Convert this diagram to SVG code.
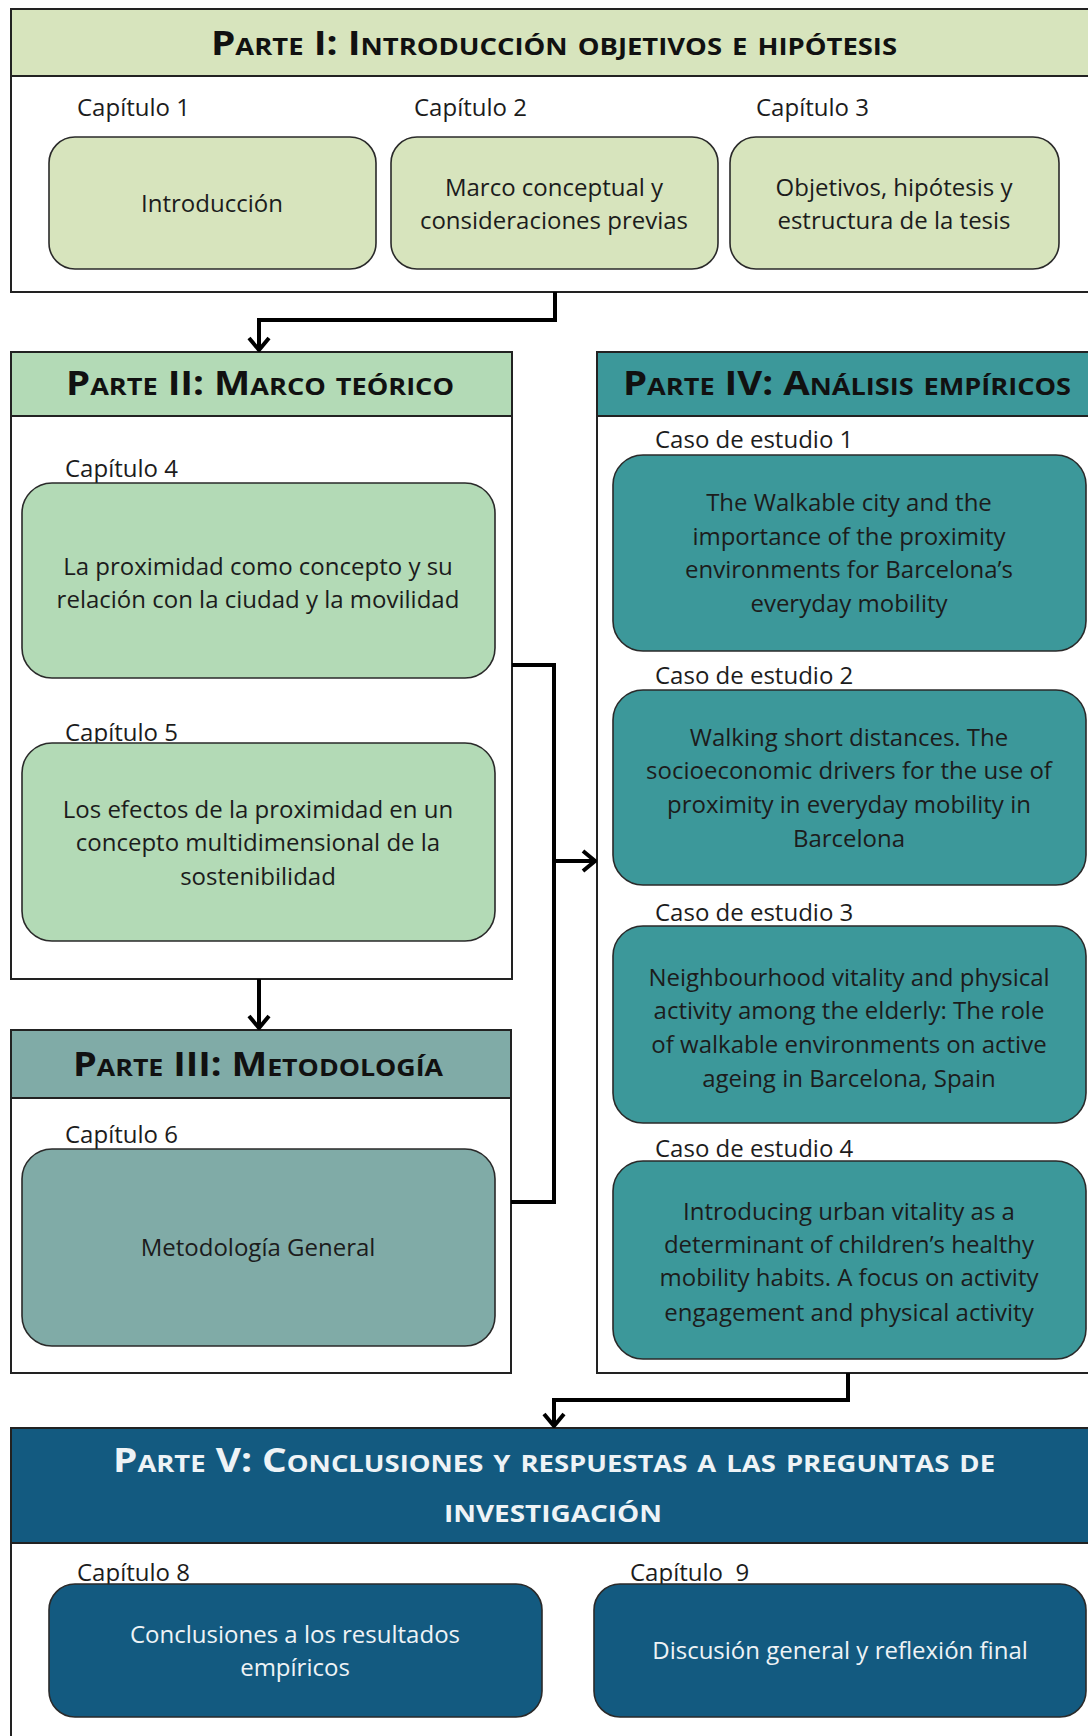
<svg xmlns="http://www.w3.org/2000/svg" width="1088" height="1736" viewBox="0 0 1088 1736">
  <style>
    .frame { fill: #ffffff; stroke: #222222; stroke-width: 2; }
    .hdr { stroke: #222222; stroke-width: 2; }
    .title { font-family: "Open Sans", "DejaVu Sans", sans-serif; font-weight: 700; font-variant: small-caps; font-size: 34px; fill: #111111; text-anchor: middle; }
    .title5 { fill: #eef3f6; }
    .lbl { font-family: "Open Sans", "DejaVu Sans", sans-serif; font-size: 24px; fill: #1c1c1c; }
    .box { stroke: #2a2a2a; stroke-width: 1.6; }
    .txt { font-family: "Open Sans", "DejaVu Sans", sans-serif; font-size: 24px; fill: #1c1c1c; text-anchor: middle; }
    .txt5 { fill: #eef3f6; }
    .g1 { fill: #d7e4bd; }
    .g2 { fill: #b3dab6; }
    .g3 { fill: #80aba7; }
    .g4 { fill: #3c989a; }
    .g5 { fill: #135a80; }
    .wire { fill: none; stroke: #000000; stroke-width: 4; stroke-linejoin: miter; }
  </style>
  <defs>
    <marker id="chev" viewBox="0 0 16 24" refX="14" refY="12" markerWidth="16" markerHeight="24" markerUnits="userSpaceOnUse" orient="auto">
      <path d="M2,2 L14,12 L2,22" fill="none" stroke="#000000" stroke-width="4"/>
    </marker>
  </defs>

  <rect width="1088" height="1736" fill="#ffffff"/>

  <!-- Part I -->
  <g id="parte1">
    <rect class="frame" x="11" y="9" width="1090" height="283"/>
    <rect class="hdr g1" x="11" y="9" width="1090" height="67"/>
    <text class="title" x="554" y="55" textLength="686" lengthAdjust="spacingAndGlyphs">Parte I: Introducción  objetivos e hipótesis</text>
  </g>
  <g id="cap1">
    <text class="lbl" x="77" y="116">Capítulo 1</text>
    <rect class="box g1" x="49" y="137" width="327" height="132" rx="26"/>
    <text class="txt" x="212" y="212">Introducción</text>
  </g>
  <g id="cap2">
    <text class="lbl" x="414" y="116">Capítulo 2</text>
    <rect class="box g1" x="391" y="137" width="327" height="132" rx="26"/>
    <text class="txt" x="554" y="196">Marco conceptual y</text>
    <text class="txt" x="554" y="229">consideraciones previas</text>
  </g>
  <g id="cap3">
    <text class="lbl" x="756" y="116">Capítulo 3</text>
    <rect class="box g1" x="730" y="137" width="329" height="132" rx="26"/>
    <text class="txt" x="894" y="196">Objetivos, hipótesis y</text>
    <text class="txt" x="894" y="229">estructura de la tesis</text>
  </g>

  <!-- Part II -->
  <g id="parte2">
    <rect class="frame" x="11" y="352" width="501" height="627"/>
    <rect class="hdr g2" x="11" y="352" width="501" height="64"/>
    <text class="title" x="260" y="395" textLength="388" lengthAdjust="spacingAndGlyphs">Parte II: Marco teórico</text>
  </g>
  <g id="cap4">
    <text class="lbl" x="65" y="477">Capítulo 4</text>
    <rect class="box g2" x="22" y="483" width="473" height="195" rx="30"/>
    <text class="txt" x="258" y="575">La proximidad como concepto y su</text>
    <text class="txt" x="258" y="608">relación con la ciudad y la movilidad</text>
  </g>
  <g id="cap5">
    <text class="lbl" x="65" y="741">Capítulo 5</text>
    <rect class="box g2" x="22" y="743" width="473" height="198" rx="30"/>
    <text class="txt" x="258" y="818">Los efectos de la proximidad en un</text>
    <text class="txt" x="258" y="851">concepto multidimensional de la</text>
    <text class="txt" x="258" y="885">sostenibilidad</text>
  </g>

  <!-- Part III -->
  <g id="parte3">
    <rect class="frame" x="11" y="1030" width="500" height="343"/>
    <rect class="hdr g3" x="11" y="1030" width="500" height="68"/>
    <text class="title" x="258" y="1076" textLength="370" lengthAdjust="spacingAndGlyphs">Parte III: Metodología</text>
  </g>
  <g id="cap6">
    <text class="lbl" x="65" y="1143">Capítulo 6</text>
    <rect class="box g3" x="22" y="1149" width="473" height="197" rx="30"/>
    <text class="txt" x="258" y="1256">Metodología General</text>
  </g>

  <!-- Part IV -->
  <g id="parte4">
    <rect class="frame" x="597" y="352" width="500" height="1021"/>
    <rect class="hdr g4" x="597" y="352" width="500" height="64"/>
    <text class="title" x="847" y="395" textLength="448" lengthAdjust="spacingAndGlyphs">Parte IV: Análisis empíricos</text>
  </g>
  <g id="caso1">
    <text class="lbl" x="655" y="448">Caso de estudio 1</text>
    <rect class="box g4" x="613" y="455" width="473" height="196" rx="30"/>
    <text class="txt" x="849" y="511">The Walkable city and the</text>
    <text class="txt" x="849" y="545">importance of the  proximity</text>
    <text class="txt" x="849" y="578">environments for Barcelona’s</text>
    <text class="txt" x="849" y="612">everyday mobility</text>
  </g>
  <g id="caso2">
    <text class="lbl" x="655" y="684">Caso de estudio 2</text>
    <rect class="box g4" x="613" y="690" width="473" height="195" rx="30"/>
    <text class="txt" x="849" y="746">Walking short distances. The</text>
    <text class="txt" x="849" y="779">socioeconomic drivers for the use of</text>
    <text class="txt" x="849" y="813">proximity in everyday mobility in</text>
    <text class="txt" x="849" y="847">Barcelona</text>
  </g>
  <g id="caso3">
    <text class="lbl" x="655" y="921">Caso de estudio 3</text>
    <rect class="box g4" x="613" y="926" width="473" height="197" rx="30"/>
    <text class="txt" x="849" y="986">Neighbourhood vitality and physical</text>
    <text class="txt" x="849" y="1019">activity among the elderly: The role</text>
    <text class="txt" x="849" y="1053">of walkable environments on active</text>
    <text class="txt" x="849" y="1087">ageing in Barcelona, Spain</text>
  </g>
  <g id="caso4">
    <text class="lbl" x="655" y="1157">Caso de estudio 4</text>
    <rect class="box g4" x="613" y="1161" width="473" height="198" rx="30"/>
    <text class="txt" x="849" y="1220">Introducing urban vitality as a</text>
    <text class="txt" x="849" y="1253">determinant of children’s healthy</text>
    <text class="txt" x="849" y="1286">mobility habits. A focus on activity</text>
    <text class="txt" x="849" y="1321">engagement and physical activity</text>
  </g>

  <!-- Part V -->
  <g id="parte5">
    <rect class="frame" x="11" y="1428" width="1090" height="320"/>
    <rect class="hdr g5" x="11" y="1428" width="1090" height="115"/>
    <text class="title title5" x="554" y="1472" textLength="882" lengthAdjust="spacingAndGlyphs">Parte V: Conclusiones y respuestas a las preguntas de</text>
    <text class="title title5" x="553" y="1522" textLength="218" lengthAdjust="spacingAndGlyphs">investigación</text>
  </g>
  <g id="cap8">
    <text class="lbl" x="77" y="1581">Capítulo 8</text>
    <rect class="box g5" x="49" y="1584" width="493" height="133" rx="26"/>
    <text class="txt txt5" x="295" y="1643">Conclusiones a los resultados</text>
    <text class="txt txt5" x="295" y="1676">empíricos</text>
  </g>
  <g id="cap9">
    <text class="lbl" x="630" y="1581" xml:space="preserve">Capítulo  9</text>
    <rect class="box g5" x="594" y="1584" width="492" height="133" rx="26"/>
    <text class="txt txt5" x="840" y="1659">Discusión general y reflexión final</text>
  </g>

  <!-- Connectors -->
  <g id="connectors">
    <path class="wire" d="M555,292 V320 H259 V350" marker-end="url(#chev)"/>
    <path class="wire" d="M259,979 V1028" marker-end="url(#chev)"/>
    <path class="wire" d="M512,665 H554 V1202 H511"/>
    <path class="wire" d="M554,861 H595" marker-end="url(#chev)"/>
    <path class="wire" d="M848,1373 V1400 H554 V1426" marker-end="url(#chev)"/>
  </g>
</svg>
